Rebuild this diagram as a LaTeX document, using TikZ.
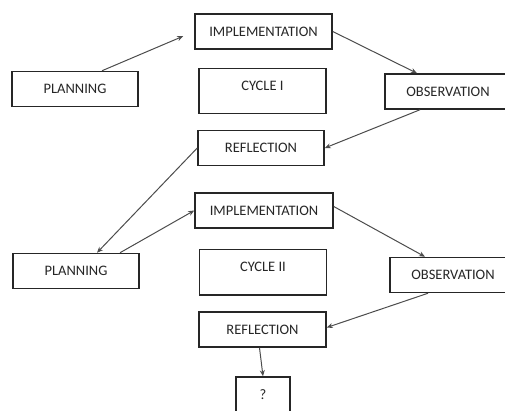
\documentclass[tikz,border=0pt]{standalone}
\usepackage{fontspec}
\setmainfont{Carlito}
\usetikzlibrary{arrows.meta}

\begin{document}
\begin{tikzpicture}[x=1pt, y=-1pt, >={Stealth[length=6pt,width=5pt]},
  stage/.style={draw=black!85, line width=1.5pt, minimum height=35pt,
    inner sep=0pt, text=black!85, font=\fontsize{14.5}{17}\selectfont},
  cycle box/.style={stage, anchor=north, minimum width=127pt,
    text height=21.7pt, text depth=23.3pt},
  link/.style={->, draw=black!70, line width=1pt}]

\useasboundingbox (0,0) rectangle (505,411);
\clip (0,0) rectangle (505,411);

% cycle I
\node [stage, minimum width=137pt] (impl-1) at (263.5,31.5) {IMPLEMENTATION};
\node [stage, minimum width=126pt] (plan-1) at (75,89) {PLANNING};
\node [cycle box] (cycle-1) at (262.5,68) {CYCLE I};
\node [stage, minimum width=126pt] (obs-1) at (448,91.5) {OBSERVATION};
\node [stage, minimum width=126pt] (refl-1) at (261,148) {REFLECTION};

% cycle II
\node [stage, minimum width=138pt] (impl-2) at (264,210.5) {IMPLEMENTATION};
\node [stage, minimum width=126pt] (plan-2) at (76,271) {PLANNING};
\node [cycle box] (cycle-2) at (263,249) {CYCLE II};
\node [stage, minimum width=126pt] (obs-2) at (453,275) {OBSERVATION};
\node [stage, minimum width=127pt] (refl-2) at (262.5,329.5) {REFLECTION};

\node [stage, minimum width=54pt, minimum height=36pt] (next) at (263,395) {?};

% connectors
\draw [link, shorten >=12pt] ([xshift=27pt]plan-1.north) -- (impl-1.west);
\draw [link] (impl-1.east) -- ([xshift=-31pt]obs-1.north);
\draw [link] ([xshift=-28pt]obs-1.south) -- (refl-1.east);
\draw [link] (refl-1.west) -- ([xshift=21pt]plan-2.north);

\draw [link] ([xshift=44pt]plan-2.north) -- (impl-2.west);
\draw [link] ([yshift=4pt]impl-2.east) -- ([xshift=-28pt]obs-2.north);
\draw [link] ([xshift=-25pt]obs-2.south) -- ([yshift=2pt]refl-2.east);
\draw [link] ([xshift=-3pt]refl-2.south) -- (next.north);

\end{tikzpicture}
\end{document}
